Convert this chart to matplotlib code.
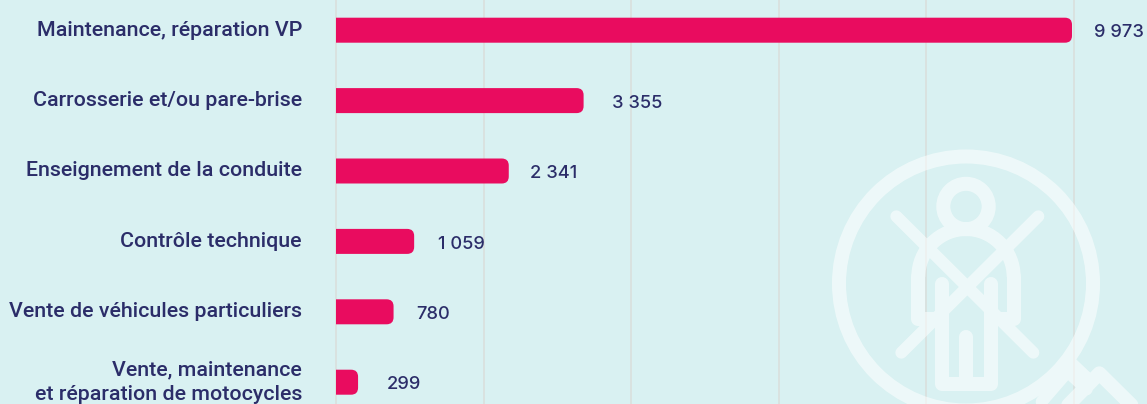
import matplotlib
matplotlib.use('Agg')
import matplotlib.pyplot as plt
import numpy as np
from matplotlib.patches import FancyBboxPatch, Circle, Arc

# Data
categories = [
    "Maintenance, réparation VP",
    "Carrosserie et/ou pare-brise",
    "Enseignement de la conduite",
    "Contrôle technique",
    "Vente de véhicules particuliers",
    "Vente, maintenance\net réparation de motocycles",
]
values = [9973, 3355, 2341, 1059, 780, 299]
value_labels = ["9 973", "3 355", "2 341", "1 059", "780", "299"]
grid_ticks = [0, 2000, 4000, 6000, 8000, 10000]

BG = '#d9f1f2'
BAR = '#e90c5f'
NAVY = '#2b2d69'
GRID = '#d9dfdd'

W, H = 1147, 404
fig = plt.figure(figsize=(W / 100, H / 100), dpi=100, facecolor=BG)

# Plot area runs to the figure edges, 0 sits at x=336px
ax = fig.add_axes([336 / W, 0, (W - 336) / W, 1])
ax.set_facecolor(BG)
px_per_unit = 147.6 / 2000
row_px = 70.4
ax.set_xlim(0, (W - 336) / px_per_unit)
ax.set_ylim((H - 30.2) / row_px, -30.2 / row_px)
for s in ax.spines.values():
    s.set_visible(False)
ax.set_xticks(grid_ticks)
ax.set_yticks(range(len(categories)))
ax.set_yticklabels([])
ax.tick_params(length=0, labelbottom=False)
ax.grid(axis='x', color=GRID, linewidth=1.2, zorder=1)
for gl in ax.get_xgridlines():
    gl.set_clip_on(False)
ax.set_axisbelow(True)

# Bars: the box starts left of 0, the axes clip makes that end square
bar_h = 25 / row_px
radius = 7 / px_per_unit
aspect = (1 / row_px) / (1 / px_per_unit)
hidden = 2 * radius
label_pad = [22, 28, 21, 24, 23, 29]
for i, v in enumerate(values):
    ax.add_patch(FancyBboxPatch((-hidden, i - bar_h / 2), v + hidden, bar_h,
                                boxstyle=f"round,pad=0,rounding_size={radius}",
                                mutation_aspect=aspect, fc=BAR, ec='none', zorder=3))
    ax.annotate(value_labels[i], (v, i), xytext=(label_pad[i] * 0.72, -2), textcoords='offset points',
                ha='left', va='center', fontsize=13.2, color=NAVY, family='Inter',
                fontweight='medium', annotation_clip=False)
    ax.annotate(categories[i], (0, i), xytext=(-34 * 0.72, 0), textcoords='offset points',
                ha='right', va='center', fontsize=15.4, color=NAVY, family='Roboto',
                fontweight='medium', linespacing=1.38, annotation_clip=False)

# Background pictogram, rendered as one mask so that overlaps stay flat
mfig = plt.figure(figsize=(W / 100, H / 100), dpi=100, facecolor='white')
m = mfig.add_axes([0, 0, 1, 1])
m.set_xlim(0, W)
m.set_ylim(H, 0)
m.axis('off')


def zx(z):
    return 800 + z / 3


def zy(z):
    return 130 + z / 3


def stroke(points, lw=14):
    xs = [zx(p[0]) for p in points]
    ys = [zy(p[1]) for p in points]
    m.plot(xs, ys, color='black', lw=lw * 0.72, solid_capstyle='round', solid_joinstyle='round')


m.add_patch(Circle((966, 283.5), 127, fc='none', ec='black', lw=14 * 0.72))
m.add_patch(Circle((966, 206.5), 22.7, fc='none', ec='black', lw=14 * 0.72))
# body
m.add_patch(Arc((zx(498), zy(440)), 2 * 143 / 3, 2 * 143 / 3, theta1=180, theta2=360,
                ec='black', lw=14 * 0.72))
stroke([(355, 440), (355, 567), (400, 567)])
stroke([(641, 440), (641, 567), (595, 567)])
# legs
stroke([(425, 463), (425, 762), (572, 762), (572, 463)])
stroke([(498, 620), (498, 762)])
# crossed strap
stroke([(289, 259), (700, 668)], lw=12)
stroke([(715, 259), (304, 668)], lw=12)
# handle
stroke([(725, 815), (803, 725), (860, 778)], lw=12)
stroke([(815, 700), (870, 752)], lw=12)
stroke([(800, 830), (898, 730), (1060, 890)], lw=14)

mfig.canvas.draw()
mask = 1 - np.asarray(mfig.canvas.buffer_rgba())[:, :, 0] / 255.0
plt.close(mfig)
overlay = np.ones((H, W, 4))
overlay[:, :, 3] = mask * 0.55
top = fig.add_axes([0, 0, 1, 1], zorder=5)
top.patch.set_visible(False)
top.axis('off')
top.imshow(overlay, extent=(0, W, H, 0), interpolation='nearest', aspect='auto')

fig.savefig('out.png', dpi=100, facecolor=BG)
